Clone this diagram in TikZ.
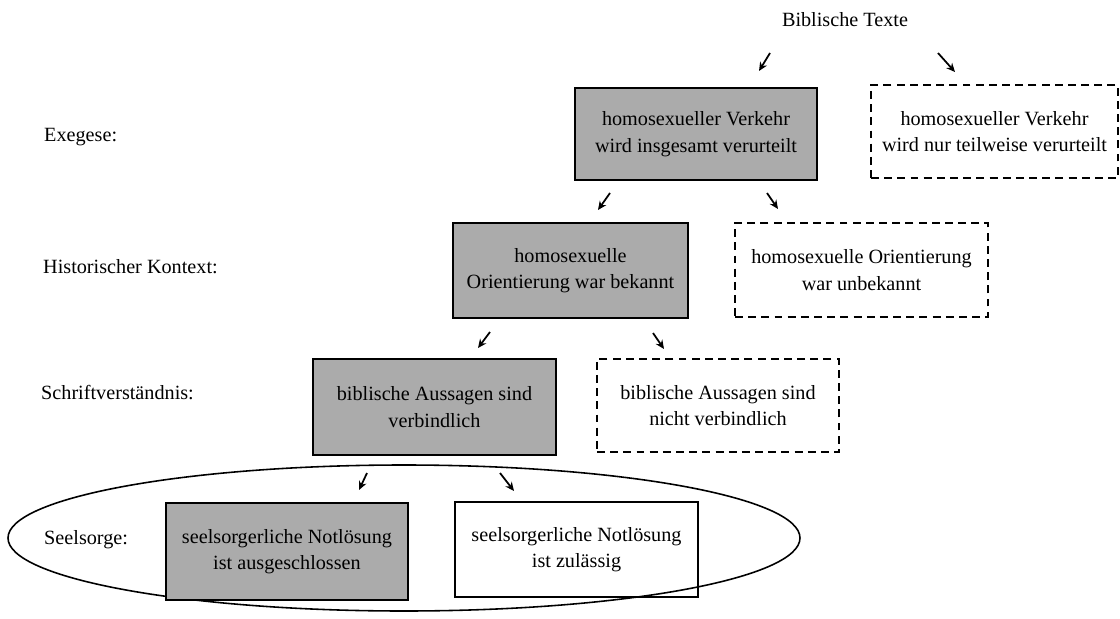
\documentclass[tikz,border=0pt]{standalone}
\usepackage{fontspec}
\setmainfont{Liberation Serif}
\usetikzlibrary{arrows.meta}
\begin{document}
\begin{tikzpicture}[x=0.02cm,y=-0.02cm,
  every node/.style={font=\fontsize{11.5}{15}\selectfont},
  box/.style={draw, line width=0.8pt, align=center, inner sep=0pt},
  graybox/.style={box, fill=black!33},
  dashbox/.style={box, dash pattern=on 4.5pt off 3pt},
  plainbox/.style={box},
  lbl/.style={anchor=west},
  arr/.style={line width=1pt, -{Stealth[length=5pt,width=4.5pt]}}
]
\useasboundingbox (0,0) rectangle (1120,619);

% ellipse (Seelsorge)
\draw[line width=0.9pt] (404,538) ellipse [x radius=396, y radius=73];

% title
\node (bib) at (845,20) {Biblische Texte};

% row labels
\node[lbl] (lex) at (38,137) {Exegese:};
\node[lbl] (lhk) at (37,267) {Historischer Kontext:};
\node[lbl] (lsv) at (35,393) {Schriftverständnis:};
\node[lbl] (lse) at (38,540) {Seelsorge:};

% boxes
\node[graybox, minimum width=242*0.02cm, minimum height=92*0.02cm] (g1) at (696,134)
  {homosexueller Verkehr\\wird insgesamt verurteilt};
\node[dashbox, minimum width=247*0.02cm, minimum height=93*0.02cm] (d1) at (994.5,131.5)
  {homosexueller Verkehr\\wird nur teilweise verurteilt};

\node[graybox, minimum width=235*0.02cm, minimum height=95*0.02cm] (g2) at (570.5,270.5)
  {homosexuelle\\Orientierung war bekannt};
\node[dashbox, minimum width=253*0.02cm, minimum height=94*0.02cm] (d2) at (861.5,270)
  {homosexuelle Orientierung\\war unbekannt};

\node[graybox, minimum width=243*0.02cm, minimum height=96*0.02cm] (g3) at (434.5,407)
  {biblische Aussagen sind\\verbindlich};
\node[dashbox, minimum width=242*0.02cm, minimum height=93*0.02cm] (d3) at (718,405.5)
  {biblische Aussagen sind\\nicht verbindlich};

\node[graybox, minimum width=242*0.02cm, minimum height=97*0.02cm] (g4) at (287,551.5)
  {seelsorgerliche Notlösung\\ist ausgeschlossen};
\node[plainbox, minimum width=243*0.02cm, minimum height=95*0.02cm] (w4) at (576.5,549.5)
  {seelsorgerliche Notlösung\\ist zulässig};

% arrow coordinates
\coordinate (a1s) at (770,53);  \coordinate (a1e) at (759,71);
\coordinate (a2s) at (938,53);  \coordinate (a2e) at (955,72);
\coordinate (b1s) at (610,193); \coordinate (b1e) at (598,210);
\coordinate (b2s) at (767,193); \coordinate (b2e) at (778,209);
\coordinate (c1s) at (490,332); \coordinate (c1e) at (478,348);
\coordinate (c2s) at (653,333); \coordinate (c2e) at (664,349);
\coordinate (d1s) at (367,473); \coordinate (d1e) at (359,490);
\coordinate (d2s) at (500,473); \coordinate (d2e) at (514,491);

\draw[arr] (a1s) -- (a1e);
\draw[arr] (a2s) -- (a2e);
\draw[arr] (b1s) -- (b1e);
\draw[arr] (b2s) -- (b2e);
\draw[arr] (c1s) -- (c1e);
\draw[arr] (c2s) -- (c2e);
\draw[arr] (d1s) -- (d1e);
\draw[arr] (d2s) -- (d2e);
\end{tikzpicture}
\end{document}
